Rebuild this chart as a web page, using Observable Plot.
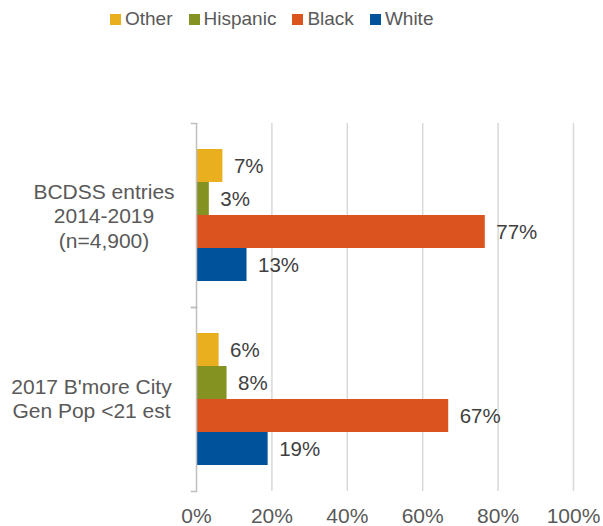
<!DOCTYPE html>
<html><head><meta charset="utf-8">
<script src="https://cdn.jsdelivr.net/npm/d3@7"></script>
<script src="https://cdn.jsdelivr.net/npm/@observablehq/plot@0.6"></script>
<style>
body{margin:0;background:#fff;font-family:"Liberation Sans",Arial,sans-serif;}
#wrap{position:relative;width:603px;height:526px;}
#legend{position:absolute;left:110px;top:7px;display:flex;gap:16px;font-size:19px;color:#595959;line-height:24px;}
.item{display:flex;align-items:center;gap:4px}
.sw{width:11px;height:11px;display:inline-block}
</style></head><body><div id="wrap"><div id="legend"></div></div>
<script>
const groups = ["BCDSS entries\n2014-2019\n(n=4,900)", "2017 B'more City\nGen Pop <21 est"];
const races = ["Other", "Hispanic", "Black", "White"];
const colors = ["#E9AF1F", "#849221", "#DB541F", "#00529B"];
const bcdss = [7.0, 3.4, 76.6, 13.4];
const genPop = [6.0, 8.1, 66.9, 19.0];
const xTicks = [0, 20, 40, 60, 80, 100];

const series = [bcdss, genPop];
const data = groups.flatMap((g, gi) => races.map((r, ri) => ({group: g, race: r, value: series[gi][ri]})));

const legend = document.getElementById("legend");
races.forEach((r, i) => {
  const it = document.createElement("div");
  it.className = "item";
  it.innerHTML = `<span class="sw" style="background:${colors[i]}"></span><span>${r}</span>`;
  legend.appendChild(it);
});

const font = "Liberation Sans, Arial, sans-serif";
const chart = Plot.plot({
  width: 603, height: 526,
  marginTop: 122, marginBottom: 35, marginLeft: 196, marginRight: 30,
  x: {domain: [0, 100]},
  y: {domain: races, paddingInner: 0, paddingOuter: 0.74, axis: null},
  fy: {domain: groups, padding: 0, axis: null},
  color: {domain: races, range: colors},
  style: {fontFamily: font, background: "white"},
  marks: [
    Plot.gridX(xTicks.filter(t => t > 0), {stroke: "#d9d9d9", strokeOpacity: 1, strokeWidth: 1.5}),
    Plot.barX(data, {x: "value", y: "race", fy: "group", fill: "race"}),
    Plot.ruleX([0], {stroke: "#bfbfbf", strokeWidth: 1.5}),
    Plot.frame({anchor: "top", insetLeft: -5, insetRight: 377, stroke: "#bfbfbf", strokeWidth: 1.5}),
    Plot.frame({anchor: "bottom", insetLeft: -5, insetRight: 377, stroke: "#bfbfbf", strokeWidth: 1.5}),
    Plot.text(data, {x: "value", y: "race", fy: "group", text: d => Math.round(d.value) + "%", dx: 11, textAnchor: "start", fill: "#404040", fontSize: 20.5}),
    Plot.axisX(xTicks, {tickSize: 0, tickPadding: 17, tickFormat: d => d + "%", fill: "#595959", fontSize: 21, label: null}),
    Plot.text([groups[0]], {fy: d => d, text: d => d, frameAnchor: "left", textAnchor: "middle", dx: -92.5, lineHeight: 1.17, fill: "#595959", fontSize: 21}),
    Plot.text([groups[1]], {fy: d => d, text: d => d, frameAnchor: "left", textAnchor: "middle", dx: -105, dy: -1.5, lineHeight: 1.15, fill: "#595959", fontSize: 21})
  ]
});
document.getElementById("wrap").appendChild(chart);
</script>
</body></html>
